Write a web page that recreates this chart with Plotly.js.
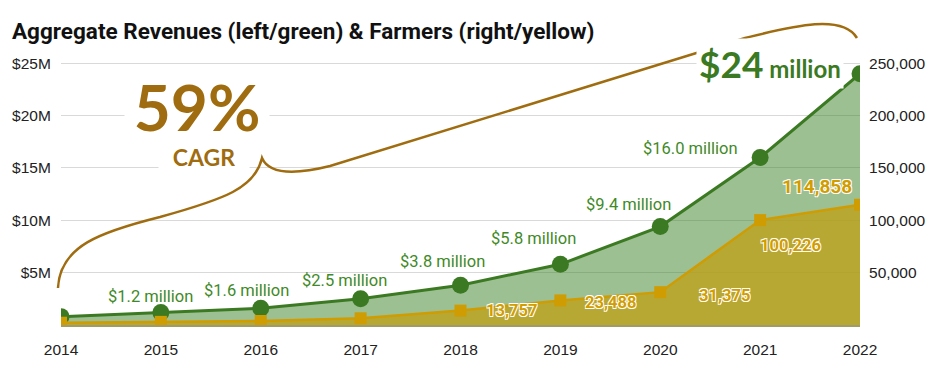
<!DOCTYPE html>
<html>
<head>
<meta charset="utf-8">
<script src="https://cdn.plot.ly/plotly-3.0.1.min.js"></script>
<style>html,body{margin:0;padding:0;background:#fff;}#chart{width:936px;height:372px;}</style>
</head>
<body>
<div id="chart"></div>
<script>
// ---- data ----
const years = [2014, 2015, 2016, 2017, 2018, 2019, 2020, 2021, 2022];
const revenueM = [0.8, 1.2, 1.6, 2.5, 3.8, 5.8, 9.4, 16.0, 24.0];
const farmers = [2200, 3000, 3800, 6400, 13757, 23488, 31375, 100226, 114858];
const revenueLabels = ['', '$1.2 million', '$1.6 million', '$2.5 million', '$3.8 million', '$5.8 million', '$9.4 million', '$16.0 million', ''];
const farmerLabels = ['', '', '', '', '13,757', '23,488', '31,375', '100,226', '114,858'];
const leftTickVals = [5, 10, 15, 20, 25];
const leftTickText = ['$5M', '$10M', '$15M', '$20M', '$25M'];
const rightTickVals = [50000, 100000, 150000, 200000, 250000];
const rightTickText = ['50,000', '100,000', '150,000', '200,000', '250,000'];
const titleText = 'Aggregate Revenues (left/green) & Farmers (right/yellow)';
const cagrText = '59%';
const cagrSub = 'CAGR';
const finalRevText = '<span style="font-size:37px">$24</span> million';

// ---- styling / placement ----
const GREEN = '#3b7a22', GREEN_TXT = '#3f8a28', GOLD = '#cf9c02', GOLD_TXT = '#d19d00', BROWN = '#a06c10';
const L = 61, R = 76, T = 57, B = 47, W = 936, H = 372;
const PW = W - L - R, PH = H - T - B;
const revOffsets = [null, [-10, 16], [-14, 18], [-16, 18], [-18, 24], [-27, 26], [-32, 22], [-70, 9], null];
const farmOffsets = [null, null, null, null, [51, 0], [50, -2], [64, -3], [30, -25], [-43, 18]];
const farmSizes = [16.5, 16.5, 16.5, 16.5, 16.5, 16.5, 16.5, 16.5, 19];

function P(px, py) { return ((px - L) / PW).toFixed(4) + ',' + ((H - B - py) / PH).toFixed(4); }
const bracePath = 'M' + P(58, 288) +
  ' C' + P(60, 246) + ' ' + P(100, 232) + ' ' + P(160, 217) +
  ' C' + P(225, 199) + ' ' + P(255, 188) + ' ' + P(262, 158) +
  ' C' + P(268, 172) + ' ' + P(290, 176) + ' ' + P(330, 166) +
  ' L' + P(745, 38) +
  ' C' + P(790, 27) + ' ' + P(842, 13) + ' ' + P(857, 38);

const whiteOutline = '0.8px 0.8px 0 #fff, -0.8px -0.8px 0 #fff, 0.8px -0.8px 0 #fff, -0.8px 0.8px 0 #fff, 0 0 1px #fff';

const traces = [
  {
    x: years, y: revenueM, yaxis: 'y', type: 'scatter', mode: 'lines+markers',
    line: {color: GREEN, width: 3},
    marker: {color: GREEN, size: 17, symbol: 'circle'},
    fill: 'tozeroy', fillcolor: 'rgba(60,130,40,0.5)',
    cliponaxis: true, hoverinfo: 'skip', showlegend: false
  },
  {
    x: years, y: farmers, yaxis: 'y2', type: 'scatter', mode: 'lines+markers',
    line: {color: GOLD, width: 2.5},
    marker: {color: GOLD, size: 12, symbol: 'square'},
    fill: 'tozeroy', fillcolor: 'rgba(192,160,20,0.75)',
    cliponaxis: true, hoverinfo: 'skip', showlegend: false
  }
];

const annotations = [];
years.forEach((yr, i) => {
  if (revenueLabels[i]) {
    annotations.push({
      x: yr, y: revenueM[i], xref: 'x', yref: 'y', text: revenueLabels[i], showarrow: false,
      xanchor: 'center', yanchor: 'middle',
      xshift: revOffsets[i][0], yshift: revOffsets[i][1],
      font: {family: 'Roboto', size: 16.5, color: GREEN_TXT}
    });
  }
  if (farmerLabels[i]) {
    annotations.push({
      x: yr, y: farmers[i], xref: 'x', yref: 'y2', text: farmerLabels[i], showarrow: false,
      xanchor: 'center', yanchor: 'middle',
      xshift: farmOffsets[i][0], yshift: farmOffsets[i][1],
      font: {family: 'Roboto', size: farmSizes[i], color: GOLD_TXT, weight: 700, shadow: whiteOutline}
    });
  }
});
// final revenue callout
annotations.push({
  x: years[years.length - 1], y: revenueM[revenueM.length - 1], xref: 'x', yref: 'y',
  text: finalRevText, showarrow: false, xanchor: 'center', yanchor: 'middle',
  xshift: -90, yshift: 10,
  bgcolor: '#ffffff', borderpad: 2,
  font: {family: 'Lato', size: 24, color: GREEN, weight: 700}
});
// CAGR callout
annotations.push({
  xref: 'paper', yref: 'paper', x: (197 - L) / PW, y: (H - B - 106) / PH,
  xanchor: 'center', yanchor: 'middle', width: 140, height: 58,
  text: cagrText, showarrow: false, bgcolor: '#ffffff', borderpad: 2,
  font: {family: 'Lato', size: 64, color: BROWN, weight: 700}
});
annotations.push({
  xref: 'paper', yref: 'paper', x: (204 - L) / PW, y: (H - B - 157) / PH,
  xanchor: 'center', yanchor: 'middle', width: 88, height: 24,
  text: cagrSub, showarrow: false, bgcolor: '#ffffff', borderpad: 1,
  font: {family: 'Lato', size: 23, color: BROWN, weight: 700}
});

const tickFont = {family: 'Liberation Sans', size: 15.5, color: '#222'};

const layout = {
  width: W, height: H,
  margin: {l: L, r: R, t: T, b: B, pad: 0},
  paper_bgcolor: '#fff', plot_bgcolor: '#fff',
  title: {
    text: '<b>' + titleText + '</b>', xref: 'container', yref: 'container',
    x: 12 / W, xanchor: 'left', y: 1 - 31 / H, yanchor: 'middle',
    font: {family: 'Roboto', size: 22.5, color: '#111'}
  },
  xaxis: {
    range: [years[0], years[years.length - 1]],
    tickvals: years, ticktext: years.map(String),
    showgrid: false, zeroline: false,
    showline: true, linecolor: 'rgba(120,112,40,0.7)', linewidth: 2,
    ticks: 'outside', ticklen: 9, tickcolor: 'rgba(0,0,0,0)',
    tickfont: tickFont
  },
  yaxis: {
    range: [0, 25.6],
    tickvals: leftTickVals, ticktext: leftTickText,
    showgrid: true, gridcolor: '#d9d9d9', gridwidth: 1, zeroline: false,
    ticks: 'outside', ticklen: 6, tickcolor: 'rgba(0,0,0,0)',
    tickfont: tickFont
  },
  yaxis2: {
    range: [0, 256000], overlaying: 'y', side: 'right',
    tickvals: rightTickVals, ticktext: rightTickText,
    showgrid: false, zeroline: false,
    ticks: 'outside', ticklen: 5, tickcolor: 'rgba(0,0,0,0)',
    tickfont: tickFont
  },
  shapes: [{
    type: 'path', xref: 'paper', yref: 'paper', path: bracePath,
    line: {color: BROWN, width: 2.5}, layer: 'above'
  }],
  annotations: annotations
};

Plotly.newPlot('chart', traces, layout, {displayModeBar: false, staticPlot: true});
</script>
</body>
</html>
